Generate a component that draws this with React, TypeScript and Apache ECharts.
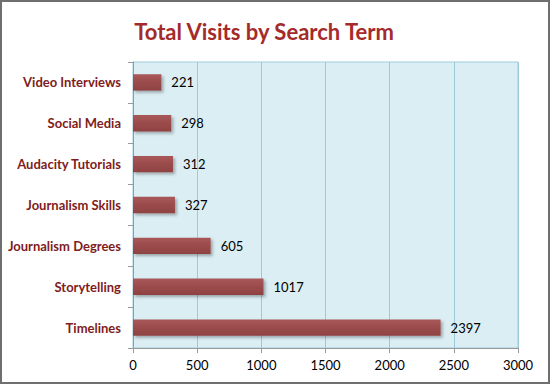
import React, { useEffect, useRef } from "react";
import * as echarts from "echarts";

const categories = [
  "Timelines",
  "Storytelling",
  "Journalism Degrees",
  "Journalism Skills",
  "Audacity Tutorials",
  "Social Media",
  "Video Interviews",
];
const visits = [2397, 1017, 605, 327, 312, 298, 221];
const xTicks = [0, 500, 1000, 1500, 2000, 2500, 3000];

export default function App() {
  const ref = useRef<HTMLDivElement>(null);
  useEffect(() => {
    if (!ref.current) return;
    const chart = echarts.init(ref.current, null, { renderer: "svg" });
    chart.setOption({
      animation: false,
      backgroundColor: "#ffffff",
      title: {
        text: "Total Visits by Search Term",
        left: 259,
        textAlign: "center",
        top: 15,
        textStyle: {
          fontFamily: "Lato",
          fontWeight: "bold",
          fontSize: 22,
          color: "#a52a2a",
        },
      },
      graphic: [
        {
          type: "rect",
          shape: { x: 1, y: 1, width: 548, height: 382 },
          style: { fill: "none", stroke: "#6f6f6f", lineWidth: 2 },
          silent: true,
          z: 100,
        },
      ],
      grid: {
        left: 133,
        right: 32,
        top: 62,
        bottom: 36,
        show: true,
        backgroundColor: "#dbeef4",
        borderColor: "#9ccadb",
        borderWidth: 1,
      },
      xAxis: {
        type: "value",
        min: xTicks[0],
        max: xTicks[xTicks.length - 1],
        interval: 500,
        axisLine: { show: true, lineStyle: { color: "#9a9a9a", width: 1 } },
        axisTick: { show: true, length: 5, lineStyle: { color: "#9a9a9a" } },
        splitLine: { show: true, lineStyle: { color: "#9ccadb", width: 1 } },
        axisLabel: {
          color: "#000000",
          fontFamily: "Lato",
          fontSize: 13,
          margin: 10,
          formatter: (v: number) => String(v),
        },
      },
      yAxis: {
        type: "category",
        data: categories,
        axisLine: { show: true, lineStyle: { color: "#9a9a9a", width: 1 } },
        axisTick: { show: true, length: 5, lineStyle: { color: "#9a9a9a" } },
        axisLabel: {
          color: "#801c1c",
          fontFamily: "Lato",
          fontWeight: "bold",
          fontSize: 13,
          margin: 12,
        },
      },
      series: [
        {
          type: "bar",
          data: visits,
          barWidth: "40%",
          itemStyle: {
            color: new echarts.graphic.LinearGradient(0, 0, 0, 1, [
              { offset: 0, color: "#a85858" },
              { offset: 0.5, color: "#9b4b4b" },
              { offset: 1, color: "#8e4242" },
            ]),
            shadowBlur: 3,
            shadowOffsetX: 2,
            shadowOffsetY: 2,
            shadowColor: "rgba(0,0,0,0.3)",
          },
          label: {
            show: true,
            position: "right",
            distance: 10,
            color: "#000000",
            fontFamily: "Lato",
            fontSize: 13,
          },
        },
      ],
    });
    return () => chart.dispose();
  }, []);
  return (
    <div
      ref={ref}
      style={{ position: "fixed", left: 0, top: 0, width: 550, height: 384 }}
    />
  );
}
